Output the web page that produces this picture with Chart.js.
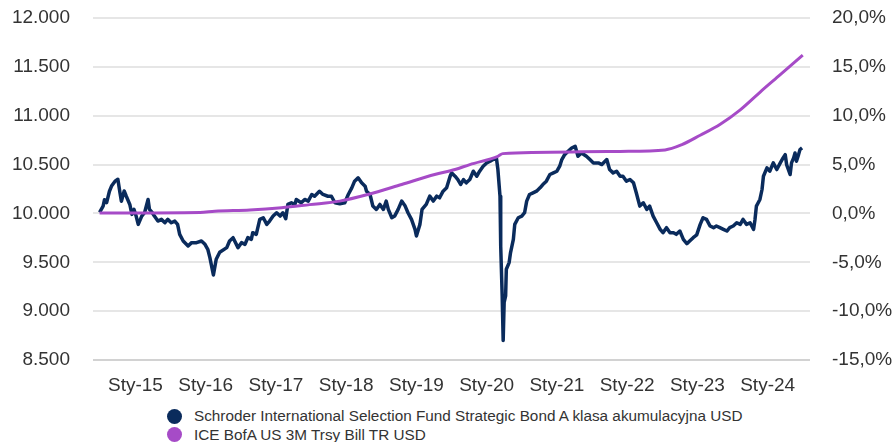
<!DOCTYPE html>
<html lang="pl">
<head>
<meta charset="utf-8">
<script src="https://cdn.jsdelivr.net/npm/chart.js@4.4.1/dist/chart.umd.min.js"></script>
<style>
  body { margin: 0; background: #fff; font-family: "Liberation Sans", Arial, sans-serif; }
  #wrap { position: relative; width: 895px; height: 442px; overflow: hidden; }
  #legend { position: absolute; left: 167px; top: 407px; font-size: 15.3px; color: #333; }
  .item { display: flex; align-items: center; height: 18.5px; white-space: nowrap; }
  .dot { width: 15px; height: 15px; border-radius: 50%; margin-right: 12px; flex: none; }
</style>
</head>
<body>
<div id="wrap">
  <canvas id="chart" width="895" height="400"></canvas>
  <div id="legend"></div>
</div>
<script>
// ==================== DATA ====================
var seriesNames = [
  'Schroder International Selection Fund Strategic Bond A klasa akumulacyjna USD',
  'ICE BofA US 3M Trsy Bill TR USD'
];
var seriesColors = ['#0a2b5c', '#a64bc7'];

var yearTicks = [2015, 2016, 2017, 2018, 2019, 2020, 2021, 2022, 2023, 2024];
var leftTicks = [8500, 9000, 9500, 10000, 10500, 11000, 11500, 12000];
var rightTicks = [-15, -10, -5, 0, 5, 10, 15, 20];

// fund: date (decimal year) / value of 10 000 invested
var fundYears = [
  2014.49, 2014.54, 2014.56, 2014.59, 2014.63, 2014.66, 2014.71, 2014.75, 2014.78, 2014.80,
  2014.84, 2014.87, 2014.92, 2014.95, 2014.98, 2015.01, 2015.04, 2015.09, 2015.13, 2015.18,
  2015.20, 2015.24, 2015.27, 2015.32, 2015.37, 2015.42, 2015.46, 2015.51, 2015.56, 2015.60,
  2015.63, 2015.68, 2015.75, 2015.80, 2015.87, 2015.94, 2015.99, 2016.03, 2016.06, 2016.11,
  2016.15, 2016.20, 2016.30, 2016.34, 2016.39, 2016.46, 2016.51, 2016.56, 2016.60, 2016.65,
  2016.67, 2016.72, 2016.77, 2016.82, 2016.87, 2016.91, 2016.96, 2017.01, 2017.06, 2017.10,
  2017.14, 2017.17, 2017.22, 2017.27, 2017.29, 2017.36, 2017.41, 2017.46, 2017.51, 2017.55,
  2017.62, 2017.67, 2017.74, 2017.79, 2017.84, 2017.91, 2017.98, 2018.03, 2018.08, 2018.12,
  2018.17, 2018.22, 2018.27, 2018.29, 2018.34, 2018.38, 2018.43, 2018.48, 2018.53, 2018.57,
  2018.60, 2018.65, 2018.69, 2018.74, 2018.79, 2018.84, 2018.88, 2018.93, 2018.98, 2019.00,
  2019.05, 2019.08, 2019.14, 2019.19, 2019.24, 2019.29, 2019.33, 2019.38, 2019.43, 2019.48,
  2019.50, 2019.55, 2019.59, 2019.63, 2019.67, 2019.71, 2019.76, 2019.81, 2019.86, 2019.90,
  2019.95, 2020.00, 2020.05, 2020.09, 2020.14, 2020.16, 2020.19, 2020.20, 2020.221, 2020.235,
  2020.249, 2020.27, 2020.28, 2020.32, 2020.34, 2020.38, 2020.40, 2020.45, 2020.50, 2020.54,
  2020.57, 2020.61, 2020.66, 2020.71, 2020.76, 2020.80, 2020.85, 2020.90, 2020.95, 2021.00,
  2021.04, 2021.07, 2021.11, 2021.16, 2021.21, 2021.26, 2021.30, 2021.35, 2021.42, 2021.47,
  2021.52, 2021.59, 2021.64, 2021.71, 2021.75, 2021.80, 2021.85, 2021.90, 2021.94, 2021.99,
  2022.04, 2022.09, 2022.13, 2022.18, 2022.23, 2022.28, 2022.32, 2022.37, 2022.42, 2022.47,
  2022.51, 2022.56, 2022.61, 2022.66, 2022.70, 2022.75, 2022.80, 2022.85, 2022.89, 2022.94,
  2022.99, 2023.04, 2023.08, 2023.13, 2023.18, 2023.23, 2023.27, 2023.32, 2023.37, 2023.42,
  2023.46, 2023.51, 2023.56, 2023.61, 2023.65, 2023.70, 2023.75, 2023.80, 2023.82, 2023.84,
  2023.89, 2023.92, 2023.94, 2023.99, 2024.03, 2024.08, 2024.13, 2024.18, 2024.22, 2024.25,
  2024.27, 2024.32, 2024.34, 2024.37, 2024.39, 2024.41, 2024.44, 2024.46, 2024.49
];
var fundValues = [
  10010, 10075, 10140, 10110, 10227, 10280, 10330, 10350, 10211, 10125,
  10230, 10176, 10092, 9990, 10041, 9973, 9888, 9973, 10007, 10143,
  10041, 10007, 9973, 9922, 9939, 9905, 9939, 9905, 9922, 9888,
  9786, 9718, 9667, 9701, 9701, 9718, 9684, 9633, 9548, 9370,
  9531, 9602, 9650, 9718, 9752, 9650, 9701, 9684, 9752, 9735,
  9803, 9786, 9939, 9956, 9888, 9922, 9973, 10007, 9973, 10007,
  9946, 10092, 10109, 10092, 10143, 10109, 10143, 10126, 10194, 10176,
  10227, 10194, 10176, 10176, 10109, 10100, 10109, 10194, 10262, 10330,
  10364, 10313, 10278, 10227, 10194, 10075, 10041, 10092, 10041, 10126,
  10041, 9956, 9973, 10041, 10126, 10075, 10007, 9939, 9837, 9769,
  9888, 10041, 10092, 10177, 10126, 10177, 10160, 10228, 10262, 10381,
  10415, 10381, 10347, 10296, 10347, 10313, 10347, 10432, 10381, 10432,
  10483, 10517, 10534, 10551, 10560, 10449, 10177, 9667, 9157, 8700,
  9089, 9157, 9429, 9497, 9599, 9735, 9888, 9956, 9973, 10007,
  10126, 10194, 10211, 10228, 10262, 10296, 10330, 10398, 10415, 10432,
  10483, 10551, 10602, 10636, 10670, 10687, 10585, 10619, 10585, 10551,
  10517, 10517, 10500, 10551, 10449, 10415, 10432, 10381, 10381, 10330,
  10347, 10313, 10211, 10075, 10109, 10041, 10075, 9973, 9905, 9837,
  9803, 9854, 9803, 9803, 9786, 9820, 9735, 9690, 9718, 9752,
  9780, 9888, 9956, 9939, 9871, 9854, 9871, 9854, 9837, 9820,
  9854, 9871, 9905, 9888, 9939, 9888, 9905, 9837, 9939, 10075,
  10143, 10245, 10381, 10466, 10432, 10517, 10449, 10517, 10568, 10602,
  10500, 10398, 10517, 10568, 10619, 10534, 10602, 10653, 10670
];

// benchmark
var benchYears = [
  2014.49, 2015.92, 2016.13, 2016.63, 2017.08, 2017.48, 2017.91, 2018.31,
  2018.79, 2019.26, 2019.55, 2019.76, 2020.16, 2020.23, 2021.33, 2021.90,
  2022.54, 2022.78, 2023.04, 2023.32, 2023.61, 2023.89, 2024.18, 2024.50
];
var benchValues = [
  10005, 10010, 10023, 10035, 10058, 10090, 10126, 10194,
  10296, 10398, 10449, 10500, 10585, 10612, 10630, 10635,
  10650, 10704, 10800, 10910, 11060, 11240, 11420, 11620
];

// ==================== HELPERS ====================
function toPoints(xs, ys) {
  return xs.map(function (x, i) { return { x: x, y: ys[i] }; });
}

function fmtThousands(v) {
  return String(Math.round(v)).replace(/\B(?=(\d{3})+(?!\d))/g, '.');
}

function fmtPercent(v) {
  return v.toFixed(1).replace('.', ',') + '%';
}

function fixedTicks(list) {
  return function (scale) {
    scale.ticks = list.map(function (v) { return { value: v }; });
  };
}

// fixed axis size, no extra room for half labels
function fixSize(w, h) {
  return function (s) {
    if (w) s.width = w;
    if (h) s.height = h;
    s.paddingTop = 0;
    s.paddingBottom = 0;
    s.paddingLeft = 0;
    s.paddingRight = 0;
  };
}

// ==================== CHART ====================
var tickFont = { family: '"Liberation Sans", Arial, sans-serif', size: 19 };

new Chart(document.getElementById('chart').getContext('2d'), {
  type: 'line',
  data: {
    datasets: [
      {
        label: seriesNames[1],
        data: toPoints(benchYears, benchValues),
        borderColor: seriesColors[1],
        borderWidth: 3,
        pointRadius: 0,
        cubicInterpolationMode: 'monotone',
        order: 0,
        yAxisID: 'y'
      },
      {
        label: seriesNames[0],
        data: toPoints(fundYears, fundValues),
        borderColor: seriesColors[0],
        borderWidth: 3.5,
        pointRadius: 0,
        tension: 0,
        borderJoinStyle: 'round',
        order: 1,
        yAxisID: 'y'
      }
    ]
  },
  options: {
    responsive: false,
    animation: false,
    devicePixelRatio: 1,
    layout: { padding: { top: 18, left: 0, right: 0, bottom: 0 } },
    plugins: {
      legend: { display: false },
      tooltip: { enabled: false }
    },
    scales: {
      x: {
        type: 'linear',
        min: 2014.396,
        max: 2024.603,
        afterBuildTicks: fixedTicks(yearTicks),
        afterFit: fixSize(0, 40),
        ticks: {
          callback: function (v) { return 'Sty-' + String(v).slice(2); },
          font: tickFont,
          color: '#333',
          padding: 14,
          maxRotation: 0,
          autoSkip: false
        },
        grid: { display: false, drawTicks: false },
        border: { display: false }
      },
      y: {
        position: 'left',
        min: 8500,
        max: 12000,
        afterBuildTicks: fixedTicks(leftTicks),
        afterFit: fixSize(93, 0),
        ticks: {
          callback: fmtThousands,
          font: tickFont,
          color: '#333',
          padding: 23
        },
        grid: {
          color: function (ctx) { return ctx.tick && ctx.tick.value === 8500 ? '#d2d2d2' : '#e6e6e6'; },
          lineWidth: 2,
          drawTicks: false
        },
        border: { display: false }
      },
      y2: {
        position: 'right',
        min: -15,
        max: 20,
        afterBuildTicks: fixedTicks(rightTicks),
        afterFit: fixSize(85, 0),
        ticks: {
          callback: fmtPercent,
          font: tickFont,
          color: '#333',
          padding: 22
        },
        grid: { display: false, drawTicks: false },
        border: { display: false }
      }
    }
  }
});

// ==================== LEGEND ====================
var legend = document.getElementById('legend');
seriesNames.forEach(function (name, i) {
  var row = document.createElement('div');
  row.className = 'item';
  var dot = document.createElement('span');
  dot.className = 'dot';
  dot.style.background = seriesColors[i];
  var txt = document.createElement('span');
  txt.textContent = name;
  row.appendChild(dot);
  row.appendChild(txt);
  legend.appendChild(row);
});
</script>
</body>
</html>
